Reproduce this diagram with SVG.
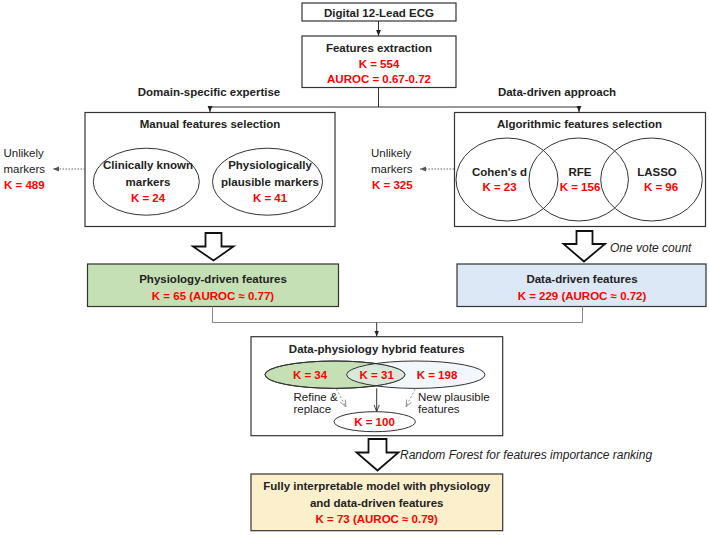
<svg xmlns="http://www.w3.org/2000/svg" width="709" height="535" viewBox="0 0 709 535">
<defs>
<marker id="ah" viewBox="0 0 10 10" refX="10" refY="5" markerWidth="6" markerHeight="6" orient="auto"><path d="M0,1 L10,5 L0,9 z" fill="#222"/></marker>
<marker id="ahg" viewBox="0 0 10 10" refX="10" refY="5" markerWidth="6" markerHeight="6" orient="auto"><path d="M0,1 L10,5 L0,9 z" fill="#555"/></marker>
<marker id="aho" viewBox="0 0 10 10" refX="10" refY="5" markerWidth="7" markerHeight="7" orient="auto"><path d="M0,1 L10,5 L0,9" fill="none" stroke="#888" stroke-width="1.2"/></marker>
<marker id="ahs" viewBox="0 0 10 10" refX="10" refY="5" markerWidth="7" markerHeight="7" orient="auto"><path d="M0,1 L10,5 L0,9" fill="none" stroke="#333" stroke-width="1.3"/></marker>
</defs>
<style>
text{font-family:"Liberation Sans",Arial,sans-serif;font-size:11.5px;fill:#222}
.b{font-weight:bold}
.r{fill:#ff0000;font-weight:bold}
.i{font-style:italic;font-size:12px}
.m{text-anchor:middle}
.box{fill:#fff;stroke:#333;stroke-width:1.2}
.ell{fill:none;stroke:#333;stroke-width:1}
.blk{fill:#fff;stroke:#111;stroke-width:1.8;stroke-linejoin:miter}
.con{fill:none;stroke:#333;stroke-width:1}
.cong{fill:none;stroke:#888;stroke-width:1}
.dot{fill:none;stroke:#666;stroke-width:1;stroke-dasharray:1.5 1.5}
.dotg{fill:none;stroke:#999;stroke-width:1;stroke-dasharray:2 2}
</style>
<g id="ecg">
<rect class="box" x="302" y="3" width="154" height="18"/>
<text class="b m" x="379" y="16.5">Digital 12-Lead ECG</text>
</g>
<g id="extraction">
<rect class="box" x="302" y="36" width="154" height="51.5"/>
<text class="b m" x="379" y="52">Features extraction</text>
<text class="r m" x="379" y="67.5">K = 554</text>
<text class="r m" x="379" y="83">AUROC = 0.67-0.72</text>
</g>
<g id="labels">
<text class="b m" x="209" y="95.5">Domain-specific expertise</text>
<text class="b m" x="557" y="95.5">Data-driven approach</text>
<text class="i" x="610" y="252">One vote count</text>
<text class="i" x="400" y="459">Random Forest for features importance ranking</text>
</g>
<g id="manual">
<rect class="box" x="85" y="112.5" width="250" height="114"/>
<text class="b m" x="210" y="128">Manual features selection</text>
<ellipse class="ell" cx="146.3" cy="181.7" rx="53" ry="33.5"/>
<ellipse class="ell" cx="267.5" cy="181.7" rx="55" ry="33.5"/>
<text class="b m" x="148" y="169">Clinically known</text>
<text class="b m" x="148" y="185.5">markers</text>
<text class="r m" x="148" y="202">K = 24</text>
<text class="b m" x="270" y="169">Physiologically</text>
<text class="b m" x="270" y="185.5">plausible markers</text>
<text class="r m" x="270" y="202">K = 41</text>
</g>
<g id="unlikely-left">
<text x="3.5" y="157">Unlikely</text>
<text x="3.5" y="173">markers</text>
<text class="r" x="4" y="189">K = 489</text>
</g>
<g id="algorithmic">
<rect class="box" x="454.5" y="112.5" width="251" height="114"/>
<text class="b m" x="579.5" y="128">Algorithmic features selection</text>
<ellipse class="ell" cx="507" cy="179.5" rx="51" ry="41.5"/>
<ellipse class="ell" cx="578.7" cy="179.5" rx="49.7" ry="41.5"/>
<ellipse class="ell" cx="651.5" cy="179.5" rx="50.8" ry="41.5"/>
<text class="b m" x="499.5" y="175.5">Cohen's d</text>
<text class="r m" x="499.5" y="191">K = 23</text>
<text class="b m" x="580" y="175.5">RFE</text>
<text class="r m" x="580" y="191">K = 156</text>
<text class="b m" x="657" y="175.5">LASSO</text>
<text class="r m" x="661" y="191">K = 96</text>
</g>
<g id="unlikely-right">
<text x="371" y="157">Unlikely</text>
<text x="371" y="173">markers</text>
<text class="r" x="372" y="189">K = 325</text>
</g>
<g id="physiology">
<rect x="87.5" y="264" width="251" height="42.5" fill="#c5e0b4" stroke="#333" stroke-width="1.2"/>
<text class="b m" x="213" y="283">Physiology-driven features</text>
<text class="r m" x="213" y="300">K = 65 (AUROC ≈ 0.77)</text>
</g>
<g id="datadriven">
<rect x="457" y="264" width="249" height="42.5" fill="#dce8f5" stroke="#333" stroke-width="1.2"/>
<text class="b m" x="582" y="283">Data-driven features</text>
<text class="r m" x="582" y="300">K = 229 (AUROC ≈ 0.72)</text>
</g>
<g id="hybrid">
<rect class="box" x="251" y="336.7" width="251.7" height="99"/>
<text class="b m" x="376.7" y="353">Data-physiology hybrid features</text>
<ellipse cx="335" cy="374.7" rx="70" ry="13.7" fill="#c5e0b4" stroke="#333" stroke-width="1"/>
<ellipse cx="415.8" cy="374.7" rx="69.2" ry="13.7" fill="#e8f1fa" fill-opacity="0.55" stroke="#333" stroke-width="1"/>
<ellipse cx="335" cy="374.7" rx="70" ry="13.7" fill="none" stroke="#333" stroke-width="1"/>
<text class="r m" x="310" y="379">K = 34</text>
<text class="r m" x="376.7" y="379">K = 31</text>
<text class="r m" x="437" y="379">K = 198</text>
<text x="293.5" y="401">Refine &amp;</text>
<text x="293.5" y="412.5">replace</text>
<text x="418" y="401">New plausible</text>
<text x="418" y="412.5">features</text>
<ellipse cx="374.7" cy="421.7" rx="40.7" ry="10" fill="#fff" stroke="#333" stroke-width="1"/>
<text class="r m" x="374.5" y="426">K = 100</text>
</g>
<g id="final">
<rect x="251" y="474" width="251.7" height="56.7" fill="#fcf0cc" stroke="#333" stroke-width="1.2"/>
<text class="b m" x="376.7" y="490">Fully interpretable model with physiology</text>
<text class="b m" x="376.7" y="506.5">and data-driven features</text>
<text class="r m" x="376.7" y="522.5">K = 73 (AUROC ≈ 0.79)</text>
</g>
<g id="connectors">
<line class="con" x1="378.5" y1="21" x2="378.5" y2="36" marker-end="url(#ah)"/>
<polyline class="con" points="378.5,87.5 378.5,107 210,107 210,112" marker-end="url(#ah)"/>
<polyline class="con" points="378.5,107 579,107 579,112" marker-end="url(#ah)"/>
<line class="dot" x1="85" y1="169" x2="53" y2="169" marker-end="url(#ahg)"/>
<line class="dot" x1="454" y1="169" x2="420" y2="169" marker-end="url(#ahg)"/>
<polyline class="cong" points="212.5,306.5 212.5,322.5 582.5,322.5 582.5,306.5"/>
<line class="con" x1="376.7" y1="322.5" x2="376.7" y2="336.5" marker-end="url(#ah)"/>
<line class="con" x1="376.7" y1="388.4" x2="376.7" y2="411.5" stroke-width="1.3" marker-end="url(#ahs)"/>
<line class="dotg" x1="336.5" y1="389" x2="346" y2="407" marker-end="url(#aho)"/>
<line class="dotg" x1="415" y1="389" x2="406" y2="407" marker-end="url(#aho)"/>
<path class="blk" d="M205.5,233 H221.5 V246.5 H233.5 L213.5,260.5 L193,246.5 H205.5 Z"/>
<path class="blk" d="M576.5,231 H592.5 V244 H605 L584,261.5 L563.5,244 H576.5 Z"/>
<path class="blk" d="M368.5,439 H386.5 V452.5 H398.5 L377.5,470.5 L356.5,452.5 H368.5 Z"/>
</g>
</svg>
